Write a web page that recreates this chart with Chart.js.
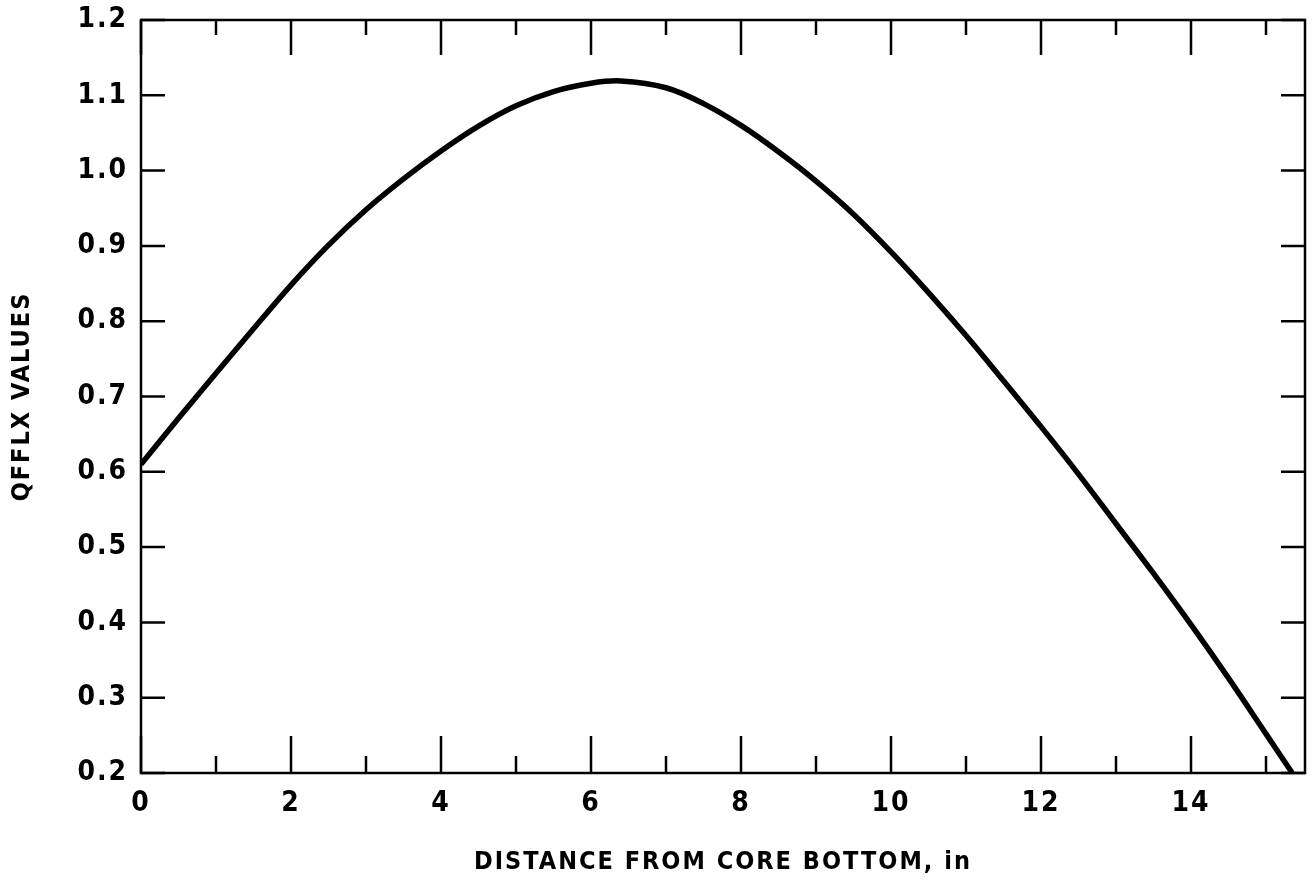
<!DOCTYPE html>
<html>
<head>
<meta charset="utf-8">
<title>QFFLX values</title>
<script src="https://cdn.jsdelivr.net/npm/chart.js@4"></script>
<style>
  html, body { margin: 0; padding: 0; background: #fff; }
  #box { width: 1314px; height: 890px; }
</style>
</head>
<body>
<div id="box"><canvas id="myChart"></canvas></div>
<script>
/* Werte */
const distance = [0, 0.5, 1, 1.5, 2, 2.5, 3, 3.5, 4, 4.5, 5, 5.5, 6, 6.4, 7, 7.5, 8, 8.5, 9, 9.5, 10, 10.5, 11, 11.5, 12, 12.5, 13, 13.5, 14, 14.5, 15, 15.35];
const qfflx = [0.610, 0.671, 0.731, 0.790, 0.848, 0.901, 0.948, 0.989, 1.026, 1.059, 1.086, 1.105, 1.116, 1.119, 1.110, 1.089, 1.060, 1.025, 0.986, 0.942, 0.892, 0.838, 0.781, 0.721, 0.660, 0.597, 0.531, 0.465, 0.397, 0.326, 0.252, 0.200];

const xTickLabels = [0, 2, 4, 6, 8, 10, 12, 14];
const xMinorTicks = [1, 3, 5, 7, 9, 11, 13, 15];
const yTickLabels = [0.2, 0.3, 0.4, 0.5, 0.6, 0.7, 0.8, 0.9, 1.0, 1.1, 1.2];

const labelFont = "'DejaVu Sans Condensed', 'Liberation Sans Narrow', sans-serif";

/* Rahmen und nach innen zeigende Teilstriche */
const frameTicks = {
  id: 'frameTicks',
  beforeDraw(chart) {
    chart.ctx.letterSpacing = '2px';
  },
  afterDatasetsDraw(chart) {
    const {ctx, chartArea: a, scales: {x, y}} = chart;
    ctx.save();
    ctx.letterSpacing = '0px';
    ctx.strokeStyle = '#000';
    ctx.lineWidth = 2.5;
    ctx.strokeRect(a.left, a.top, a.right - a.left, a.bottom - a.top);
    ctx.beginPath();
    xTickLabels.forEach(v => {
      const px = x.getPixelForValue(v);
      ctx.moveTo(px, a.bottom); ctx.lineTo(px, a.bottom - 37);
      ctx.moveTo(px, a.top); ctx.lineTo(px, a.top + 35);
    });
    xMinorTicks.forEach(v => {
      const px = x.getPixelForValue(v);
      ctx.moveTo(px, a.bottom); ctx.lineTo(px, a.bottom - 17);
      ctx.moveTo(px, a.top); ctx.lineTo(px, a.top + 15);
    });
    yTickLabels.forEach(v => {
      const py = y.getPixelForValue(v);
      ctx.moveTo(a.left, py); ctx.lineTo(a.left + 24, py);
      ctx.moveTo(a.right, py); ctx.lineTo(a.right - 24, py);
    });
    ctx.stroke();
    ctx.restore();
  }
};

const ctx = document.getElementById('myChart');

new Chart(ctx, {
  type: 'line',
  data: {
    datasets: [{
      data: distance.map((d, i) => ({x: d, y: qfflx[i]})),
      borderColor: '#000',
      borderWidth: 5.5,
      pointRadius: 0,
      tension: 0.35,
      fill: false
    }]
  },
  options: {
    responsive: true,
    maintainAspectRatio: false,
    animation: false,
    layout: { padding: { top: 20, right: 9, left: 0, bottom: 0 } },
    plugins: { legend: { display: false }, tooltip: { enabled: false } },
    scales: {
      x: {
        type: 'linear',
        min: 0,
        max: 15.52,
        afterBuildTicks: scale => { scale.ticks = xTickLabels.map(v => ({value: v})); },
        afterFit: scale => { scale.height = 117; },
        grid: { display: false, drawTicks: false },
        border: { display: false },
        ticks: {
          padding: 14,
          maxRotation: 0,
          autoSkip: false,
          color: '#000',
          font: { family: labelFont, size: 28, weight: 'bold' }
        },
        title: {
          display: true,
          text: 'DISTANCE FROM CORE BOTTOM, in',
          color: '#000',
          padding: { top: 0, bottom: 13 },
          font: { family: labelFont, size: 25, weight: 'bold' }
        }
      },
      y: {
        min: 0.2,
        max: 1.2,
        afterBuildTicks: scale => { scale.ticks = yTickLabels.map(v => ({value: v})); },
        afterFit: scale => {
          scale.width = 141;
          scale.paddingTop = 0;
          scale.paddingBottom = 0;
        },
        grid: { display: false, drawTicks: false },
        border: { display: false },
        ticks: {
          padding: 13,
          color: '#000',
          callback: v => v.toFixed(1),
          font: { family: labelFont, size: 28, weight: 'bold' }
        },
        title: {
          display: true,
          text: 'QFFLX VALUES',
          color: '#000',
          padding: { top: 7, bottom: 0 },
          font: { family: labelFont, size: 25, weight: 'bold' }
        }
      }
    }
  },
  plugins: [frameTicks]
});
</script>
</body>
</html>
